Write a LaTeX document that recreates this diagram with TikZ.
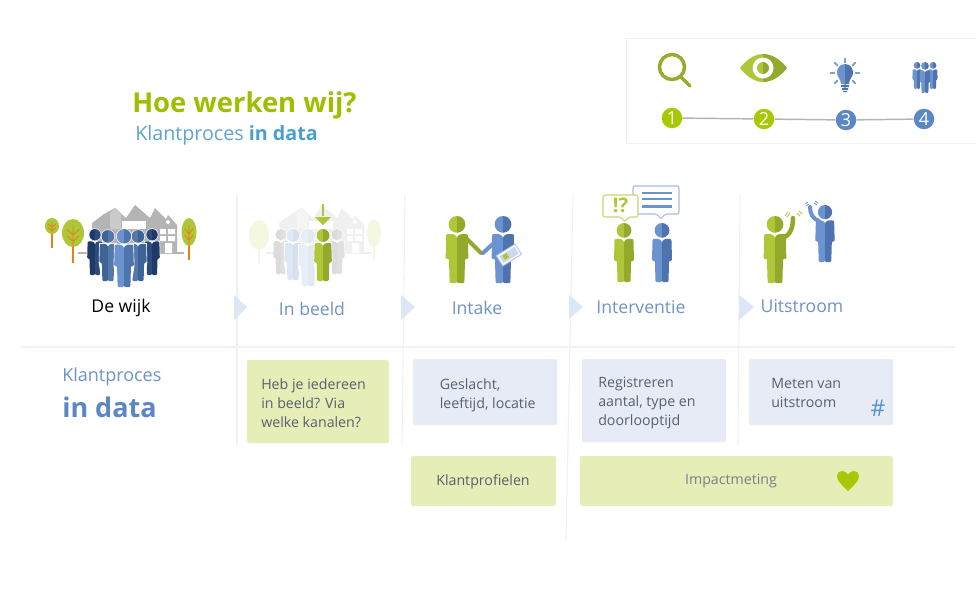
\documentclass[tikz,border=0pt]{standalone}
\usepackage{fontspec}
\setmainfont{Open Sans}
\usetikzlibrary{calc}
\definecolor{gL}{HTML}{AEC637}
\definecolor{gD}{HTML}{93A92C}
\definecolor{bL}{HTML}{6A93CF}
\definecolor{bD}{HTML}{4F73AE}
\definecolor{lime}{HTML}{A8C800}
\definecolor{numblue}{HTML}{5B87C5}
\definecolor{txt}{HTML}{59606E}
\definecolor{sep}{HTML}{EEF1F6}
\definecolor{boxg}{HTML}{E6EDB7}
\definecolor{boxb}{HTML}{E6EBF6}
\definecolor{tri}{HTML}{DCE6F4}
\definecolor{lab}{HTML}{6E93C6}
\definecolor{hs}{HTML}{B4B4B4}
\definecolor{hashc}{HTML}{5B92C8}
\definecolor{dk}{HTML}{1F3A66}\definecolor{dk2}{HTML}{2C4C7C}
\definecolor{md}{HTML}{3E6497}\definecolor{md2}{HTML}{5578A8}
\definecolor{lt}{HTML}{6A93CF}\definecolor{lt2}{HTML}{4E74AC}
\newcommand\fs[1]{\fontsize{\the\dimexpr #1pt*3/4\relax}{\the\dimexpr 19pt*3/4\relax}\selectfont}
\newcommand\person[5]{%
 \begin{scope}[shift={(#1,#2)},scale=#3/100]
  \fill[#4] (0,25) arc[start angle=90,end angle=270,radius=12.5] -- cycle;
  \fill[#5] (0,25) arc[start angle=90,end angle=-90,radius=12.5] -- cycle;
  \fill[#4,rounded corners=.8pt] (0,31) -- (-5,27) -- (-16,27) -- (-17,64) -- (-12,64) -- (-11,100) -- (0,100) -- cycle;
  \fill[#5,rounded corners=.8pt] (0,31) -- (5,27) -- (16,27) -- (17,64) -- (12,64) -- (11,100) -- (0,100) -- cycle;
 \end{scope}}
\newcommand\cperson[5]{%
 \begin{scope}[shift={(#1,#2)},scale=#3/100]
  \filldraw[white,line width=.9pt] (0,12.5) circle (12.5);
  \filldraw[white,line width=.9pt] (-16,27) -- (16,27) -- (17,64) -- (11,100) -- (-11,100) -- (-17,64) -- cycle;
 \end{scope}
 \person{#1}{#2}{#3}{#4}{#5}}
\newcommand\tree[7]{% x y rx ry bottom crown trunk
 \draw[#7,line width=1.2] (#1,#2) -- (#1,#5);
 \fill[#6] (#1,#2) ellipse[x radius=#3,y radius=#4];
 \draw[#7,line width=.6] (#1,#2-#4*.5) -- (#1,#2+#4) (#1-#3*.55,#2-#4*.25) -- (#1,#2+#4*.15) -- (#1+#3*.55,#2-#4*.25) (#1-#3*.55,#2+#4*.2) -- (#1,#2+#4*.6) -- (#1+#3*.55,#2+#4*.2);}
\newcommand\houses[3]{% xshift fill lighter
 \begin{scope}[xshift=#1*.75pt]
  \draw[#2,line width=1] (78,253) -- (184,253);
  \fill[#2] (92,253) -- (92,223) -- (104,214) -- (115,208) -- (126,218) -- (135,205) -- (150,218) -- (155,208) -- (166,219) -- (168,215) -- (177,225) -- (177,253) -- cycle;
  \fill[#3] (110,213) -- (115,208) -- (121,213) -- (121,229) -- (110,229) -- cycle;
  \fill[white] (122,221) rectangle (146,229);
  \fill[white] (160,229) rectangle (166,234) (168,229) rectangle (175,234) (160,236) rectangle (166,241) (168,236) rectangle (175,241) (165,243) rectangle (172,253);
  \fill[white] (168,222) circle (2);
 \end{scope}}
\tikzset{
 numdot/.style={circle,minimum size=20.5*.75pt,inner sep=0pt,text=white,font=\fs{18}},
 stepline/.style={draw=hs,line width=1.1pt},
 seprule/.style={draw=sep,line width=.8pt},
 tribox/.style={fill=tri},
 steplabel/.style={text=lab,font=\fs{17.6},inner sep=0pt},
 boxtext/.style={text=txt,font=\fs{14.2},inner sep=0pt,align=left,anchor=north west},
 databox/.style={rounded corners=1.5pt}
}
\begin{document}
\begin{tikzpicture}[x=.75pt,y=-.75pt]
\useasboundingbox (0,0) rectangle (976,600);
\fill[white] (0,0) rectangle (976,600);
% panel
\draw[draw=sep,line width=.7pt] (976,38) -- (626,38) -- (626,143) -- (976,143);
% icons
\draw[gD!90!gL,line width=2.6pt] (672,67) circle (12.5);
\draw[gD!90!gL,line width=2.6pt,line cap=round] (681,77) -- (690,86);
\fill[gL] (740,68) .. controls (750,55) and (760,54) .. (763,54) -- (763,82) .. controls (760,82) and (750,81) .. (740,68) -- cycle;
\fill[gD] (787,68) .. controls (777,55) and (767,54) .. (763,54) -- (763,82) .. controls (767,82) and (777,81) .. (787,68) -- cycle;
\fill[white] (763,68) circle (10.5);
\fill[gL] (763,74) arc[start angle=90,end angle=270,radius=6] -- cycle;
\fill[gD] (763,74) arc[start angle=90,end angle=-90,radius=6] -- cycle;
\foreach \a in {0,45,...,315}{\draw[numblue!80,line width=1.4pt,line cap=round] ($(845,73)+(\a:10.5)$) -- ($(845,73)+(\a:14.5)$);}
\fill[bL] (845,64) .. controls (839,64) and (837,69) .. (837,73) .. controls (837,77) and (841,79) .. (841,84) -- (845,84) -- cycle;
\fill[bD] (845,64) .. controls (851,64) and (853,69) .. (853,73) .. controls (853,77) and (849,79) .. (849,84) -- (845,84) -- cycle;
\fill[bD] (841,85) rectangle (849,87) (842,88) rectangle (848,90) (843,91) rectangle (847,92);
\person{917}{62}{27}{bL}{bD}
\person{933}{62}{27}{bL}{bD}
\person{925}{62}{31}{bL}{bD}
% numbers
\node[numdot,fill=lime] (n1) at (672,118) {1};
\node[numdot,fill=lime] (n2) at (764,119) {2};
\node[numdot,fill=numblue] (n3) at (846,120) {3};
\node[numdot,fill=numblue] (n4) at (924,119) {4};
\draw[stepline] (n1) -- (n2);
\draw[stepline] (n2) -- (n3);
\draw[stepline] (n3) -- (n4);
% title
\node[anchor=base west,inner sep=0pt,text=lime!95!black,font=\fs{27.4}\bfseries] (title) at (132,112) {Hoe werken wij?};
\node[anchor=base west,inner sep=0pt,text=lab!85!cyan,font=\fs{19.7}] (sub) at (135,140) {Klantproces \textcolor{numblue!80!cyan}{\bfseries in data}};
% separators
\draw[seprule] (237,195) -- (237,445);
\draw[seprule] (405,195) -- (402,445);
\draw[seprule] (573,195) -- (566,540);
\draw[seprule] (740,195) -- (738,445);
\draw[seprule] (22,347) -- (955,347);
% triangles
\fill[tribox] (234,295) -- (247,307) -- (234,320) -- cycle;
\fill[tribox] (401,295) -- (415,307) -- (401,320) -- cycle;
\fill[tribox] (569,295) -- (583,307) -- (569,319) -- cycle;
\fill[tribox] (739,295) -- (754,307) -- (739,320) -- cycle;
% De wijk scene
\houses{0}{hs}{hs!70}
\tree{52}{226}{7}{8}{248}{gL}{orange!60!brown}
\tree{73}{233}{11}{14}{263}{gL}{orange!60!brown}
\tree{189}{232}{7.5}{14}{260}{gL}{orange!60!brown}
\cperson{95}{229}{46}{dk}{dk2}
\cperson{152}{229}{46}{dk2}{dk}
\cperson{108}{230}{51}{md}{md2}
\cperson{138}{230}{51}{md2}{md}
\cperson{124}{229}{58}{lt}{lt2}
% In beeld scene
\houses{187}{black!6}{black!4}
\tree{259}{235}{10}{15}{263}{lime!12}{lime!12}
\tree{374}{233}{7}{14}{260}{lime!12}{lime!12}
\cperson{281}{229}{45}{black!14}{black!12}
\cperson{337}{229}{45}{black!14}{black!12}
\cperson{293}{229}{51}{bL!22}{bD!22}
\cperson{308}{229}{57}{bL!16}{bD!16}
\cperson{323}{229}{52}{gL}{gD}
\draw[gL,line width=.8pt] (323,204) -- (323,216);
\fill[gL] (315,217) -- (331,217) -- (323,225) -- cycle;
% Intake
\person{457}{216}{67}{gL}{gD}
\person{503}{216}{67}{bL}{bD}
\draw[gD,line width=3pt,line cap=round,line join=round] (465,237) -- (481,253);
\draw[bL,line width=3pt,line cap=round,line join=round] (496,241) -- (483,253);
\draw[bL!50,fill=white,line width=.7pt,rotate around={32:(509,255)}] (498,249) rectangle (520,261);
\fill[bL!35,rotate around={32:(509,255)}] (500,251) rectangle (518,259);
\fill[gL,rotate around={32:(509,255)}] (503,252) rectangle (508,257);
% Interventie
\draw[bL!60,fill=white,line width=.8pt,rounded corners=1.5pt] (633,186) -- (679,186) -- (679,214) -- (665,214) -- (661,219) -- (657,214) -- (633,214) -- cycle;
\draw[bL,line width=1.6pt] (642,193) -- (672,193) (642,199) -- (672,199) (642,206.5) -- (672,206.5);
\draw[gL!70,fill=white,line width=.8pt,rounded corners=1.5pt] (603,195) -- (638,195) -- (638,217) -- (628,217) -- (625,222) -- (621,217) -- (603,217) -- cycle;
\node[inner sep=0pt,text=gL,font=\fs{20}\bfseries] (ex) at (620.5,205.5) {!?};
\person{624}{223}{59}{gL}{gD}
\person{662}{223}{59}{bL}{bD}
% Uitstroom
\person{775}{216}{67}{gL}{gD}
\draw[gD,line width=3.4pt,line cap=round] (782,238) .. controls (790,236) and (793,228) .. (793,218);
\draw[gL,line width=.6pt] (785,216) -- (788,212) (787,217) -- (790,213) (797,213) -- (800,216) (799,211) -- (802,214);
\person{825}{205}{57}{bL}{bD}
\draw[bL,line width=3pt,line cap=round] (819,221) .. controls (813,219) and (810,214) .. (810,207);
\draw[bL,line width=.6pt] (805,204) -- (808,202) (806,206) -- (809,204) (814,203) -- (817,205) (815,201) -- (818,203);
% labels
\node[steplabel,text=black] (l1) at (121,308) {De wijk};
\node[steplabel] (l2) at (312,309) {In beeld};
\node[steplabel] (l3) at (477,308) {Intake};
\node[steplabel] (l4) at (641,307) {Interventie};
\node[steplabel] (l5) at (802,306) {Uitstroom};
% left data label
\node[anchor=base west,inner sep=0pt,text=lab,font=\fs{18}] (kp) at (62,381) {Klantproces};
\node[anchor=base west,inner sep=0pt,text=numblue,font=\fs{27}\bfseries] (id) at (62,417) {in data};
% boxes
\fill[boxg,databox] (247,360) rectangle (389,443);
\fill[boxb,databox] (413,359) rectangle (557,425);
\fill[boxb,databox] (582,359) rectangle (726,442);
\fill[boxb,databox] (749,359) rectangle (893,425);
\fill[boxg,databox] (411,456) rectangle (556,506);
\fill[boxg,databox] (580,456) rectangle (893,506);
\node[boxtext] (t1) at (261,378) {Heb je iedereen\\in beeld? Via\\welke kanalen?};
\node[boxtext] (t2) at (439.5,378) {Geslacht,\\leeftijd, locatie};
\node[boxtext] (t3) at (598,377) {Registreren\\aantal, type en\\doorlooptijd};
\node[boxtext] (t4) at (771,378) {Meten van\\uitstroom};
\node[inner sep=0pt,text=hashc,font=\fs{23}] (hash) at (878,408) {\#};
\node[inner sep=0pt,text=txt,font=\fs{14.2}] (t5) at (483,482) {Klantprofielen};
\node[inner sep=0pt,text=txt!80,font=\fs{14.2}] (t6) at (731,481) {Impactmeting};
\fill[lime] (848,491) .. controls (842,485) and (837,481) .. (837,476) .. controls (837,470) and (845,469) .. (848,475) .. controls (851,469) and (859,470) .. (859,476) .. controls (859,481) and (854,485) .. (848,491) -- cycle;
\end{tikzpicture}
\end{document}
